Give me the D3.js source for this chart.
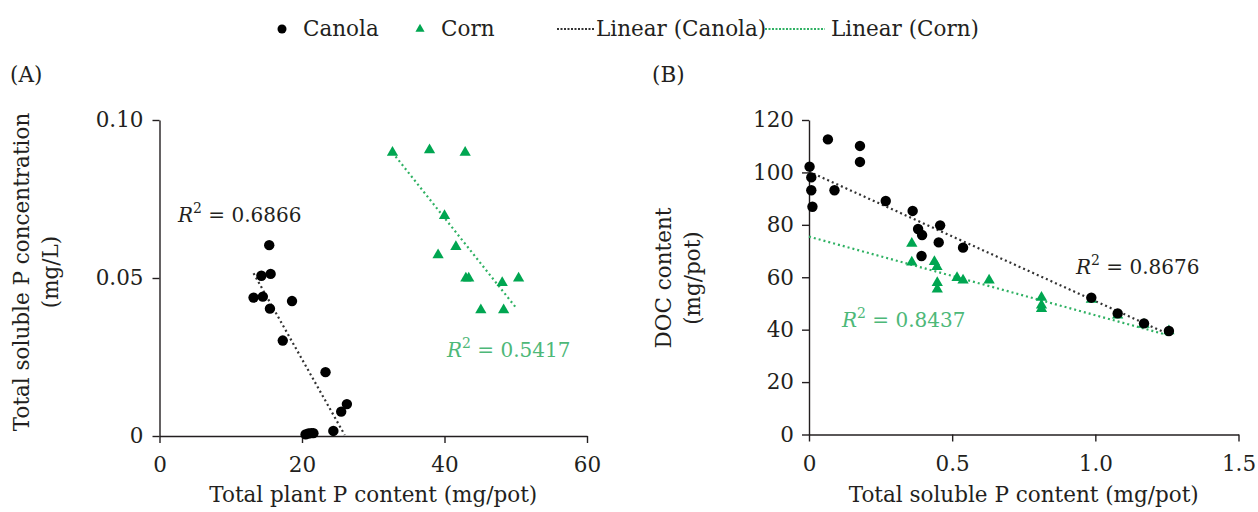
<!DOCTYPE html>
<html>
<head>
<meta charset="utf-8">
<script src="https://cdn.jsdelivr.net/npm/d3@7"></script>
<style>
  body { margin: 0; background: #fff; }
  svg text { font-family: "DejaVu Serif", "Liberation Serif", serif; fill: #231f20; }
  .axis path, .axis line { stroke: #231f20; stroke-width: 1.4; }
  .axis text { font-size: 21.5px; }
</style>
</head>
<body>
<svg id="chart" width="1258" height="512"></svg>
<script>
// panel A: total plant P (mg/pot) vs total soluble P conc (mg/L)
var canolaA = [
  [15.4, 0.0604], [14.3, 0.0507], [15.6, 0.0513], [13.2, 0.0438], [14.5, 0.0441],
  [15.5, 0.0403], [18.6, 0.0427], [17.3, 0.0302], [23.3, 0.0202], [26.3, 0.0101],
  [25.5, 0.0077], [24.4, 0.0016], [20.5, 0.0005], [20.9, 0.0008], [21.3, 0.0009], [21.6, 0.0009]
];
var cornA = [
  [32.7, 0.0897], [37.9, 0.0905], [42.9, 0.0897], [40.0, 0.0697], [41.6, 0.0599],
  [39.1, 0.0573], [43.0, 0.0499], [43.4, 0.0499], [48.1, 0.0485], [50.4, 0.0499],
  [45.1, 0.0399], [48.3, 0.0399]
];
// panel B: total soluble P (mg/pot) vs DOC (mg/pot)
var canolaB = [
  [0.002, 102.2], [0.008, 98.1], [0.008, 93.2], [0.012, 86.9], [0.066, 112.6],
  [0.178, 110.1], [0.178, 104.0], [0.089, 93.2], [0.268, 89.1], [0.362, 85.3],
  [0.381, 78.4], [0.395, 76.1], [0.458, 79.8], [0.453, 73.3], [0.393, 68.1],
  [0.538, 71.3], [0.986, 52.2], [1.078, 46.2], [1.170, 42.4], [1.257, 39.5]
];
var cornB = [
  [0.359, 72.9], [0.359, 65.7], [0.438, 65.9], [0.447, 64.0], [0.448, 57.9],
  [0.448, 55.4], [0.517, 59.8], [0.538, 58.9], [0.629, 58.9], [0.812, 52.3],
  [0.812, 49.3], [0.812, 48.0], [0.986, 51.5], [1.078, 45.5], [1.170, 42.0], [1.257, 39.5]
];
// trend lines [x0, y0, x1, y1]
var trendCanolaA = [13.2, 0.0515, 26.0, 0.0003];
var trendCornA = [32.7, 0.0897, 50.0, 0.0407];
var trendCanolaB = [0, 100.3, 1.257, 38.2];
var trendCornB = [0, 75.5, 1.257, 37.8];

var xTicksA = [0, 20, 40, 60], yTicksA = [0, 0.05, 0.10];
var xTicksB = [0, 0.5, 1.0, 1.5], yTicksB = [0, 20, 40, 60, 80, 100, 120];

var black = "#000", green = "#00a651", greenText = "#4db878";

var svg = d3.select("#chart");

function panel(opt) {
  var x = d3.scaleLinear().domain(opt.xDom).range(opt.xRange);
  var y = d3.scaleLinear().domain(opt.yDom).range(opt.yRange);
  var g = svg.append("g");

  g.append("g").attr("class", "axis")
    .attr("transform", "translate(0," + opt.yRange[0] + ")")
    .call(d3.axisBottom(x).tickValues(opt.xTicks).tickFormat(opt.xFmt).tickSize(7).tickSizeOuter(0).tickPadding(14));
  g.append("g").attr("class", "axis")
    .attr("transform", "translate(" + opt.xRange[0] + ",0)")
    .call(d3.axisLeft(y).tickValues(opt.yTicks).tickFormat(opt.yFmt).tickSize(7).tickSizeOuter(0).tickPadding(opt.yPad));
  g.selectAll(".axis .domain").attr("stroke", "#231f20");

  function trend(t, color) {
    g.append("line")
      .attr("x1", x(t[0])).attr("y1", y(t[1]))
      .attr("x2", x(t[2])).attr("y2", y(t[3]))
      .attr("stroke", color).attr("stroke-width", 2.2)
      .attr("stroke-dasharray", "2,3");
  }
  trend(opt.trendA, "#333");
  trend(opt.trendB, "#2fb163");

  g.append("g").selectAll("path")
    .data(opt.corn)
    .enter().append("path")
      .attr("d", d3.symbol(d3.symbolTriangle, 55))
      .attr("transform", function(d) { return "translate(" + x(d[0]) + "," + y(d[1]) + ")"; })
      .attr("fill", green);
  g.append("g").selectAll("circle")
    .data(opt.canola)
    .enter().append("circle")
      .attr("cx", function(d) { return x(d[0]); })
      .attr("cy", function(d) { return y(d[1]); })
      .attr("r", 5.2)
      .attr("fill", black);

  // axis titles
  var cx = (opt.xRange[0] + opt.xRange[1]) / 2;
  g.append("text").attr("x", cx).attr("y", 502)
    .attr("text-anchor", "middle").style("font-size", "21.5px").text(opt.xTitle);
  var yt = g.append("text")
    .attr("transform", "translate(" + opt.yTitleX + "," + opt.yTitleY + ") rotate(-90)")
    .attr("text-anchor", "middle").style("font-size", "21.5px");
  yt.append("tspan").attr("x", 0).attr("dy", 0).text(opt.yTitle[0]);
  yt.append("tspan").attr("x", 0).attr("dy", 29).text(opt.yTitle[1]);

  g.append("text").attr("x", opt.tagX).attr("y", 82).style("font-size", "21.5px").text(opt.tag);

  opt.r2.forEach(function(r) {
    var t = g.append("text").attr("x", r.x).attr("y", r.y).style("font-size", "20px").style("fill", r.color);
    t.append("tspan").style("font-style", "italic").text("R");
    t.append("tspan").attr("dy", -9).style("font-size", "14px").text("2");
    t.append("tspan").attr("dy", 9).text(" = " + r.v);
  });
}

panel({
  xDom: [0, 60], xRange: [159.5, 587], yDom: [0, 0.1], yRange: [436, 120],
  xTicks: xTicksA, yTicks: yTicksA, yPad: 9,
  xFmt: function(d) { return d; }, yFmt: function(d) { return d === 0 ? "0" : d3.format(".2f")(d); },
  canola: canolaA, corn: cornA, trendA: trendCanolaA, trendB: trendCornA,
  xTitle: "Total plant P content (mg/pot)", yTitle: ["Total soluble P concentration", "(mg/L)"],
  yTitleX: 29, yTitleY: 272, tag: "(A)", tagX: 10,
  r2: [{x: 178, y: 222, v: "0.6866", color: "#231f20"}, {x: 447, y: 357, v: "0.5417", color: greenText}]
});
panel({
  xDom: [0, 1.5], xRange: [809, 1238.5], yDom: [0, 120], yRange: [434.5, 120],
  xTicks: xTicksB, yTicks: yTicksB, yPad: 8,
  xFmt: function(d) { return d === 0 ? "0" : d3.format(".1f")(d); }, yFmt: function(d) { return d; },
  canola: canolaB, corn: cornB, trendA: trendCanolaB, trendB: trendCornB,
  xTitle: "Total soluble P content (mg/pot)", yTitle: ["DOC content", "(mg/pot)"],
  yTitleX: 671, yTitleY: 278, tag: "(B)", tagX: 652,
  r2: [{x: 1076, y: 274, v: "0.8676", color: "#231f20"}, {x: 842, y: 327, v: "0.8437", color: greenText}]
});

// legend
var lg = svg.append("g").style("font-size", "21.5px");
lg.append("circle").attr("cx", 282).attr("cy", 29).attr("r", 4.5).attr("fill", black);
lg.append("text").attr("x", 303).attr("y", 36).text("Canola");
lg.append("path").attr("d", d3.symbol(d3.symbolTriangle, 36)).attr("transform", "translate(420,29)").attr("fill", green);
lg.append("text").attr("x", 441).attr("y", 36).text("Corn");
lg.append("line").attr("x1", 557).attr("x2", 594).attr("y1", 29).attr("y2", 29)
  .attr("stroke", "#333").attr("stroke-width", 2.2).attr("stroke-dasharray", "2,1.5");
lg.append("text").attr("x", 596).attr("y", 36).text("Linear (Canola)");
lg.append("line").attr("x1", 765).attr("x2", 825).attr("y1", 29).attr("y2", 29)
  .attr("stroke", "#2fb163").attr("stroke-width", 2.2).attr("stroke-dasharray", "2,1.5");
lg.append("text").attr("x", 831).attr("y", 36).text("Linear (Corn)");
</script>
</body>
</html>
